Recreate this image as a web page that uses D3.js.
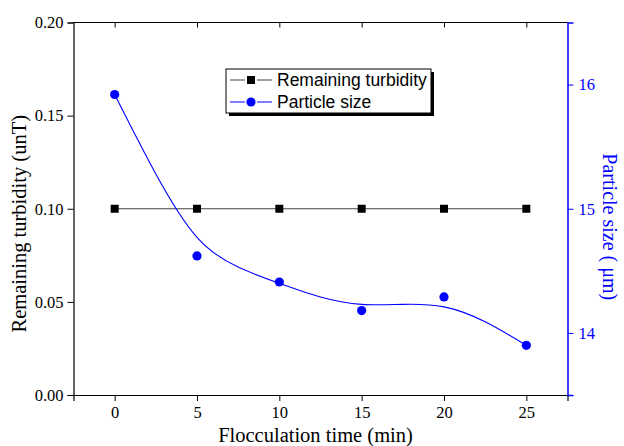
<!DOCTYPE html>
<html><head><meta charset="utf-8">
<script src="https://cdn.jsdelivr.net/npm/d3@7"></script>
<style>body{margin:0;background:#fff}</style>
</head><body>
<svg id="c" width="624" height="446"></svg>
<script>
const times = [0, 5, 10, 15, 20, 25];
const turbidity = [0.10, 0.10, 0.10, 0.10, 0.10, 0.10];
const particleSize = [15.92, 14.62, 14.41, 14.18, 14.29, 13.90];
// smoothed fit curve of particle size
const fitTimes = [0, 2.5, 5, 7.5, 10, 12.5, 15, 17.5, 20, 22.5, 25];
const fitSize = [15.92, 15.28, 14.77, 14.53, 14.40, 14.29, 14.23, 14.23, 14.21, 14.09, 13.90];
const xTicks = [0, 5, 10, 15, 20, 25];
const yLeftTicks = [0.00, 0.05, 0.10, 0.15, 0.20];
const yRightTicks = [14, 15, 16];
const legendLabels = ["Remaining turbidity", "Particle size"];

const svg = d3.select("#c");
const L = 73.5, R = 567.5, T = 22.5, B = 395;
const x = d3.scaleLinear().domain([-2.5, 27.5]).range([L, R]);
const yl = d3.scaleLinear().domain([0, 0.20]).range([B, T]);
const yr = d3.scaleLinear().domain([13.5, 16.5]).range([B, T]);
const serif = "'Liberation Serif', 'Times New Roman', serif";
const sans = "'Liberation Sans', Arial, sans-serif";
const blue = "#0000ff";
const tickFs = 16.5, titleFs = 20.5;

// top frame line
svg.append("line").attr("x1", L).attr("x2", R).attr("y1", T).attr("y2", T)
  .attr("stroke", "#000").attr("stroke-width", 1.2);
// top ticks (inward)
svg.append("g").attr("transform", `translate(0,${T})`)
  .call(d3.axisBottom(x).tickValues(xTicks).tickSize(5).tickFormat(""))
  .call(g => g.select(".domain").remove())
  .call(g => g.selectAll("line").attr("stroke", "#000"));

// bottom axis
const gx = svg.append("g").attr("transform", `translate(0,${B})`);
gx.call(d3.axisBottom(x).tickValues(d3.range(-2.5, 27.51, 2.5)).tickSize(3).tickFormat(""))
  .call(g => g.select(".domain").remove());
gx.call(d3.axisBottom(x).tickValues(xTicks).tickSize(6).tickPadding(5).tickFormat(d3.format("d")));
gx.selectAll("line").attr("stroke", "#000");
gx.select(".domain").attr("stroke", "#000").attr("stroke-width", 1.2);
gx.selectAll("text").attr("font-family", serif).attr("font-size", tickFs).attr("fill", "#000");

// left axis
const gl = svg.append("g").attr("transform", `translate(${L},0)`);
gl.call(d3.axisLeft(yl).tickValues(d3.range(0, 0.2001, 0.025)).tickSize(3).tickFormat(""))
  .call(g => g.select(".domain").remove());
gl.call(d3.axisLeft(yl).tickValues(yLeftTicks).tickSize(6).tickPadding(4).tickFormat(d3.format(".2f")));
gl.selectAll("line").attr("stroke", "#000");
gl.select(".domain").attr("stroke", "#000").attr("stroke-width", 1.2);
gl.selectAll("text").attr("font-family", serif).attr("font-size", tickFs).attr("fill", "#000");

// right axis
const gr = svg.append("g").attr("transform", `translate(${R},0)`);
gr.call(d3.axisRight(yr).tickValues(d3.range(13.5, 16.51, 0.5)).tickSize(3).tickFormat(""))
  .call(g => g.select(".domain").remove());
gr.call(d3.axisRight(yr).tickValues(yRightTicks).tickSize(6).tickPadding(5).tickFormat(d3.format("d")));
gr.selectAll("line").attr("stroke", blue);
gr.select(".domain").attr("stroke", blue).attr("stroke-width", 1.5);
gr.selectAll("text").attr("font-family", serif).attr("font-size", tickFs).attr("fill", blue);

// axis titles
svg.append("text").attr("x", (L + R) / 2 - 5).attr("y", 442).attr("text-anchor", "middle")
  .attr("font-family", serif).attr("font-size", titleFs).text("Flocculation time (min)");
svg.append("text").attr("transform", `translate(26,${(T + B) / 2 + 15}) rotate(-90)`)
  .attr("text-anchor", "middle").attr("font-family", serif).attr("font-size", titleFs)
  .text("Remaining turbidity (unT)");
svg.append("text").attr("transform", `translate(603,${(T + B) / 2 + 18}) rotate(90)`)
  .attr("text-anchor", "middle").attr("font-family", serif).attr("font-size", 20)
  .attr("fill", blue).text("Particle size ( μm)");

// turbidity line
svg.append("path").datum(times.map((t, i) => [t, turbidity[i]]))
  .attr("fill", "none").attr("stroke", "#444").attr("stroke-width", 1.1)
  .attr("d", d3.line().x(d => x(d[0])).y(d => yl(d[1])));
svg.selectAll(".sq").data(times.map((t, i) => [t, turbidity[i]])).join("rect")
  .attr("x", d => x(d[0]) - 4).attr("y", d => yl(d[1]) - 4)
  .attr("width", 8).attr("height", 8).attr("fill", "#000");

// particle size fitted curve
svg.append("path").datum(fitTimes.map((t, i) => [t, fitSize[i]]))
  .attr("fill", "none").attr("stroke", blue).attr("stroke-width", 1.1)
  .attr("d", d3.line().curve(d3.curveNatural).x(d => x(d[0])).y(d => yr(d[1])));
svg.selectAll(".ci").data(times.map((t, i) => [t, particleSize[i]])).join("circle")
  .attr("cx", d => x(d[0])).attr("cy", d => yr(d[1])).attr("r", 4.6).attr("fill", blue);

// legend
const lg = svg.append("g");
lg.append("rect").attr("x", 229).attr("y", 72).attr("width", 205).attr("height", 44).attr("fill", "#000");
lg.append("rect").attr("x", 226).attr("y", 69).attr("width", 205).attr("height", 44)
  .attr("fill", "#fff").attr("stroke", "#000").attr("stroke-width", 1);
const rows = [80, 102];
const cols = ["#444", blue];
rows.forEach((ry, i) => {
  lg.append("line").attr("x1", 230).attr("x2", 245).attr("y1", ry).attr("y2", ry).attr("stroke", cols[i]);
  lg.append("line").attr("x1", 257).attr("x2", 272).attr("y1", ry).attr("y2", ry).attr("stroke", cols[i]);
  if (i === 0) lg.append("rect").attr("x", 247).attr("y", ry - 4).attr("width", 8).attr("height", 8).attr("fill", "#000");
  else lg.append("circle").attr("cx", 251).attr("cy", ry).attr("r", 4.6).attr("fill", blue);
  lg.append("text").attr("x", 277).attr("y", ry + 6).attr("font-family", sans).attr("font-size", 17.5)
    .text(legendLabels[i]);
});
</script>
</body></html>
